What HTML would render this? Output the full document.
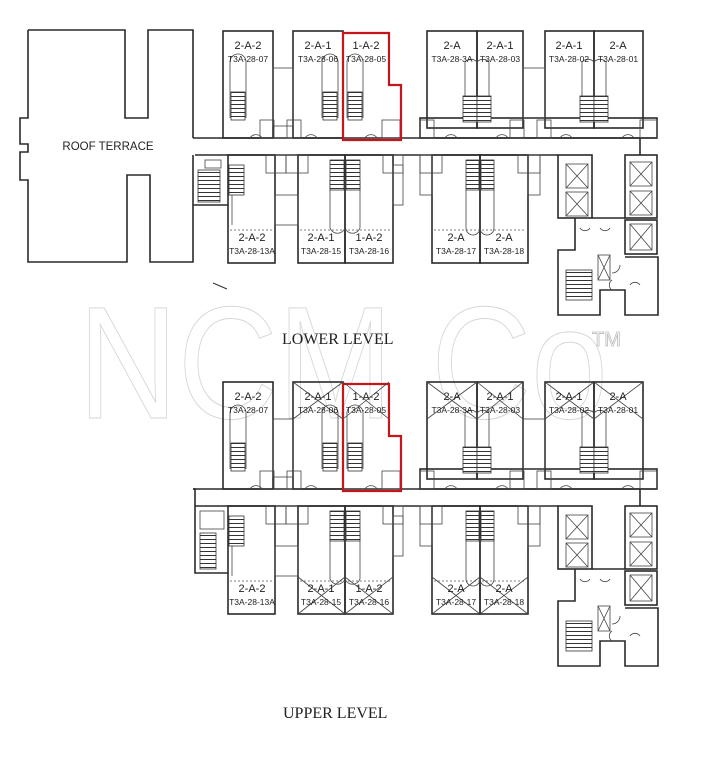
<!DOCTYPE html>
<html><head><meta charset="utf-8"><style>
html,body{margin:0;padding:0;background:#fff;}
svg{display:block}
.w{fill:none;stroke:#2a2a2a;stroke-width:1.6}
.t{fill:none;stroke:#444;stroke-width:0.8}
.d{fill:none;stroke:#555;stroke-width:0.7;stroke-dasharray:2 2}
.l1{font-family:"Liberation Sans",sans-serif;font-size:11px;fill:#222;text-anchor:middle}
.l2{font-family:"Liberation Sans",sans-serif;font-size:8.5px;fill:#222;text-anchor:middle}
.ttl{font-family:"Liberation Serif",serif;font-size:16px;fill:#222}
</style></head><body>
<svg width="702" height="770" viewBox="0 0 702 770" xmlns="http://www.w3.org/2000/svg">
<defs>
<pattern id="st" width="4" height="4" patternUnits="userSpaceOnUse"><rect width="4" height="4" fill="#fff"/><line x1="0" y1="0.5" x2="4" y2="0.5" stroke="#333" stroke-width="1"/></pattern>
<g id="plan">
 <line class="w" x1="193" y1="138" x2="657" y2="138"/>
 <line class="w" x1="195" y1="155" x2="558" y2="155"/>
 <line class="w" x1="640" y1="138" x2="640" y2="155"/>
 <rect class="w" x="223" y="31" width="50" height="107"/>
 <rect class="w" x="293" y="31" width="50" height="107"/>
 <rect class="w" x="427" y="31" width="50" height="97"/>
 <rect class="w" x="477" y="31" width="46" height="97"/>
 <rect class="w" x="545" y="31" width="49" height="97"/>
 <rect class="w" x="594" y="31" width="49" height="97"/>
 <rect class="w" x="420" y="118" width="237" height="20"/>
 <rect class="t" x="273" y="68" width="20" height="58"/>
 <rect class="t" x="523" y="68" width="22" height="50"/>
 <path class="t" d="M230 118 V62 a8 8 0 0 1 16 0 V118"/>
 <rect x="231" y="92" width="14" height="28" fill="url(#st)" stroke="#333" stroke-width=".8"/>
 <path class="t" d="M322 118 V62 a8 8 0 0 1 16 0 V118"/>
 <rect x="323" y="92" width="14" height="28" fill="url(#st)" stroke="#333" stroke-width=".8"/>
 <path class="t" d="M347 118 V62 a8 8 0 0 1 16 0 V118"/>
 <rect x="348" y="92" width="14" height="28" fill="url(#st)" stroke="#333" stroke-width=".8"/>
 <path class="t" d="M465 118 V62 a8 8 0 0 1 12 0 V118"/>
 <rect x="463" y="96" width="14" height="26" fill="url(#st)" stroke="#333" stroke-width=".8"/>
 <path class="t" d="M477 118 V62 a8 8 0 0 1 12 0 V118"/>
 <rect x="477" y="96" width="14" height="26" fill="url(#st)" stroke="#333" stroke-width=".8"/>
 <path class="t" d="M582 118 V62 a8 8 0 0 1 12 0 V118"/>
 <rect x="580" y="96" width="14" height="26" fill="url(#st)" stroke="#333" stroke-width=".8"/>
 <path class="t" d="M594 118 V62 a8 8 0 0 1 12 0 V118"/>
 <rect x="594" y="96" width="14" height="26" fill="url(#st)" stroke="#333" stroke-width=".8"/>
 <rect class="t" x="260" y="120" width="14" height="18"/><rect class="t" x="287" y="120" width="14" height="18"/>
 <rect class="t" x="382" y="120" width="18" height="18"/>
 <rect class="t" x="420" y="120" width="14" height="18"/><rect class="t" x="510" y="120" width="14" height="18"/>
 <rect class="t" x="537" y="120" width="14" height="18"/><rect class="t" x="640" y="120" width="17" height="18"/>
 <path class="t" d="M250 138 a7 7 0 0 1 12 0 M305 138 a7 7 0 0 1 12 0 M365 138 a7 7 0 0 1 12 0 M445 138 a7 7 0 0 1 12 0 M496 138 a7 7 0 0 1 12 0 M560 138 a7 7 0 0 1 12 0 M622 138 a7 7 0 0 1 12 0"/>
 <rect class="w" x="228" y="155" width="47" height="108"/>
 <rect class="w" x="298" y="155" width="47" height="108"/>
 <rect class="w" x="345" y="155" width="48" height="108"/>
 <rect class="w" x="432" y="155" width="48" height="108"/>
 <rect class="w" x="480" y="155" width="48" height="108"/>
 <rect class="t" x="275" y="195" width="23" height="30"/>
 <rect class="t" x="393" y="165" width="10" height="40"/>
 <rect class="t" x="420" y="155" width="12" height="40"/>
 <rect class="t" x="528" y="155" width="12" height="40"/>
 <rect class="t" x="266" y="155" width="20" height="18"/><rect class="t" x="286" y="155" width="22" height="18"/>
 <rect class="t" x="383" y="155" width="20" height="18"/><rect class="t" x="420" y="155" width="22" height="18"/>
 <rect class="t" x="518" y="155" width="22" height="18"/>
 <line class="d" x1="230" y1="230" x2="273" y2="230"/><line class="d" x1="300" y1="230" x2="391" y2="230"/><line class="d" x1="434" y1="230" x2="526" y2="230"/>
 <path class="t" d="M232 225 V175"/>
 <rect x="229" y="165" width="15" height="30" fill="url(#st)" stroke="#333" stroke-width=".8"/>
 <path class="t" d="M330 228 V180 M345 228 V180 M360 228 V180 M330 228 a8 8 0 0 0 15 0 M345 228 a8 8 0 0 0 15 0"/>
 <rect x="330" y="160" width="14" height="30" fill="url(#st)" stroke="#333" stroke-width=".8"/>
 <rect x="346" y="160" width="14" height="30" fill="url(#st)" stroke="#333" stroke-width=".8"/>
 <path class="t" d="M466 228 V185 M480 228 V185 M494 228 V185 M466 228 a7 7 0 0 0 14 0 M480 228 a7 7 0 0 0 14 0"/>
 <rect x="466" y="160" width="13" height="30" fill="url(#st)" stroke="#333" stroke-width=".8"/>
 <rect x="481" y="160" width="13" height="30" fill="url(#st)" stroke="#333" stroke-width=".8"/>
 <rect class="w" x="558" y="155" width="34" height="63"/>
 <rect class="t" x="566" y="164" width="22" height="24"/><path class="t" d="M566 164 L588 188 M588 164 L566 188"/>
 <rect class="t" x="566" y="192" width="22" height="24"/><path class="t" d="M566 192 L588 216 M588 192 L566 216"/>
 <rect class="w" x="625" y="155" width="32" height="63"/>
 <rect class="t" x="630" y="162" width="22" height="24"/><path class="t" d="M630 162 L652 186 M652 162 L630 186"/>
 <rect class="t" x="630" y="191" width="22" height="24"/><path class="t" d="M630 191 L652 215 M652 191 L630 215"/>
 <rect class="w" x="625" y="220" width="32" height="34"/>
 <rect class="t" x="630" y="224" width="22" height="26"/><path class="t" d="M630 224 L652 250 M652 224 L630 250"/>
 <path class="w" d="M575 218 V250 H558 V315 H600 V290 H625 V315 H658 V257 H625 M592 218 H625"/>
 <rect x="566" y="270" width="26" height="30" fill="url(#st)" stroke="#333" stroke-width=".8"/>
 <rect class="t" x="598" y="255" width="12" height="25"/><path class="t" d="M598 255 L610 280 M610 255 L598 280"/>
 <path class="t" d="M580 228 a6 6 0 0 0 10 0 M600 228 a6 6 0 0 0 10 0 M620 265 a8 8 0 0 1 -8 8 M630 285 a6 6 0 0 1 10 0 M612 290 a6 6 0 0 1 0 -10"/>
</g>
</defs>

<text x="78" y="418" font-family="Liberation Sans, sans-serif" font-size="160" fill="none" stroke="#d6d6d6" stroke-width="1" textLength="530" lengthAdjust="spacingAndGlyphs">NCM Co</text>
<text x="592" y="346" font-family="Liberation Sans, sans-serif" font-size="20" fill="none" stroke="#bbb" stroke-width="0.8">TM</text>

<use href="#plan"/>
<path class="w" d="M28 30 H125 V118 H148 V30 H193 V138"/>
<path class="w" d="M193 155 V262 H150 V175 H127 V262 H28 V180 H20 V152 H28 V144 H20 V118 H28 V30"/>
<text x="108" y="150" font-family="Liberation Sans, sans-serif" font-size="11.5" fill="#222" text-anchor="middle">ROOF TERRACE</text>
<path class="w" d="M193 205 H228"/>
<rect x="198" y="170" width="22" height="32" fill="url(#st)" stroke="#333" stroke-width=".8"/>
<rect class="t" x="205" y="160" width="16" height="8"/>
<path d="M343 33 H389 V85 H401 V140 H343 Z" fill="none" stroke="#c4161c" stroke-width="2.2"/>
<g>
<text class="l1" x="248" y="49">2-A-2</text><text class="l2" x="248" y="62">T3A-28-07</text>
<text class="l1" x="318" y="49">2-A-1</text><text class="l2" x="318" y="62">T3A-28-06</text>
<text class="l1" x="366" y="49">1-A-2</text><text class="l2" x="366" y="62">T3A-28-05</text>
<text class="l1" x="452" y="49">2-A</text><text class="l2" x="452" y="62">T3A-28-3A</text>
<text class="l1" x="500" y="49">2-A-1</text><text class="l2" x="500" y="62">T3A-28-03</text>
<text class="l1" x="569" y="49">2-A-1</text><text class="l2" x="569" y="62">T3A-28-02</text>
<text class="l1" x="618" y="49">2-A</text><text class="l2" x="618" y="62">T3A-28-01</text>
<text class="l1" x="252" y="241">2-A-2</text><text class="l2" x="252" y="254">T3A-28-13A</text>
<text class="l1" x="321" y="241">2-A-1</text><text class="l2" x="321" y="254">T3A-28-15</text>
<text class="l1" x="369" y="241">1-A-2</text><text class="l2" x="369" y="254">T3A-28-16</text>
<text class="l1" x="456" y="241">2-A</text><text class="l2" x="456" y="254">T3A-28-17</text>
<text class="l1" x="504" y="241">2-A</text><text class="l2" x="504" y="254">T3A-28-18</text>
</g>
<line x1="213" y1="283" x2="227" y2="289" stroke="#333" stroke-width="1"/>
<text class="ttl" x="282" y="344">LOWER LEVEL</text>

<g transform="translate(0,351)">
<use href="#plan"/>
<path class="w" d="M193 138 H195 V155 M195 155 V222 H228"/>
<rect class="t" x="200" y="160" width="24" height="18"/>
<rect x="200" y="182" width="16" height="36" fill="url(#st)" stroke="#333" stroke-width=".8"/>
<path d="M343 33 H389 V85 H401 V140 H343 Z" fill="none" stroke="#c4161c" stroke-width="2.2"/>
<path class="t" d="M293 31 L343 68 M343 31 L293 68 M343 31 L389 68 M389 31 L343 68 M427 31 L477 68 M477 31 L427 68 M477 31 L523 68 M523 31 L477 68 M545 31 L594 68 M594 31 L545 68 M594 31 L643 68 M643 31 L594 68 M298 226 L345 263 M345 226 L298 263 M345 226 L393 263 M393 226 L345 263 M432 226 L480 263 M480 226 L432 263 M480 226 L528 263 M528 226 L480 263"/>
<text class="l1" x="248" y="49">2-A-2</text><text class="l2" x="248" y="62">T3A-28-07</text>
<text class="l1" x="318" y="49">2-A-1</text><text class="l2" x="318" y="62">T3A-28-06</text>
<text class="l1" x="366" y="49">1-A-2</text><text class="l2" x="366" y="62">T3A-28-05</text>
<text class="l1" x="452" y="49">2-A</text><text class="l2" x="452" y="62">T3A-28-3A</text>
<text class="l1" x="500" y="49">2-A-1</text><text class="l2" x="500" y="62">T3A-28-03</text>
<text class="l1" x="569" y="49">2-A-1</text><text class="l2" x="569" y="62">T3A-28-02</text>
<text class="l1" x="618" y="49">2-A</text><text class="l2" x="618" y="62">T3A-28-01</text>
<text class="l1" x="252" y="241">2-A-2</text><text class="l2" x="252" y="254">T3A-28-13A</text>
<text class="l1" x="321" y="241">2-A-1</text><text class="l2" x="321" y="254">T3A-28-15</text>
<text class="l1" x="369" y="241">1-A-2</text><text class="l2" x="369" y="254">T3A-28-16</text>
<text class="l1" x="456" y="241">2-A</text><text class="l2" x="456" y="254">T3A-28-17</text>
<text class="l1" x="504" y="241">2-A</text><text class="l2" x="504" y="254">T3A-28-18</text>
</g>
<text class="ttl" x="283" y="718">UPPER LEVEL</text>
</svg>
</body></html>
